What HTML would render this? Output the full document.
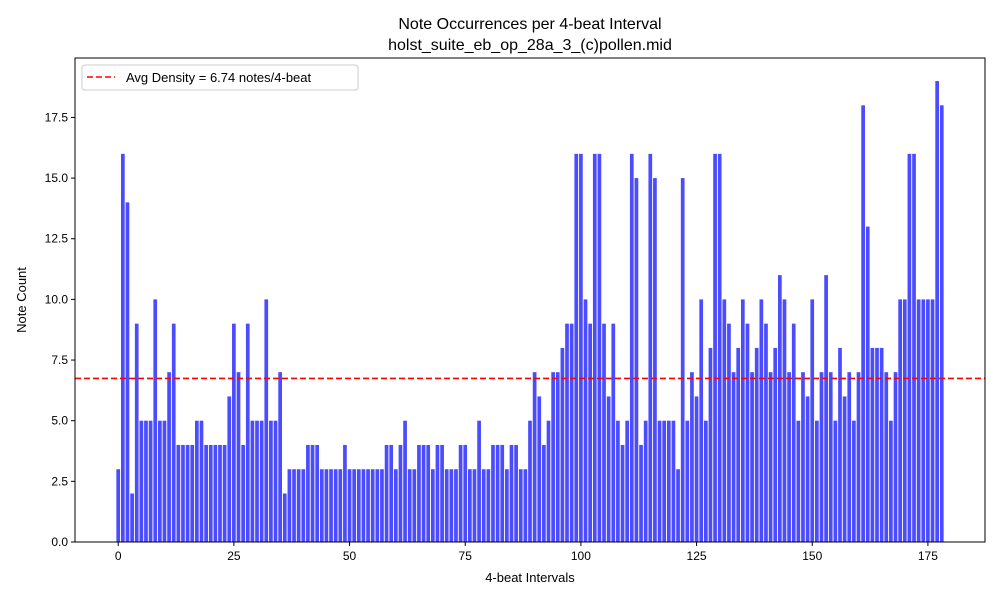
<!DOCTYPE html>
<html><head><meta charset="utf-8"><style>
body{margin:0;background:#fff;}
svg{display:block;font-family:"Liberation Sans","DejaVu Sans",sans-serif;}
</style></head><body>
<svg id="chart" width="1000" height="600" viewBox="0 0 1000 600" xmlns="http://www.w3.org/2000/svg">
<rect width="1000" height="600" fill="#fff"/>
<text x="530" y="29" font-size="16" text-anchor="middle">Note Occurrences per 4-beat Interval</text>
<text x="530" y="50" font-size="16" text-anchor="middle">holst_suite_eb_op_28a_3_(c)pollen.mid</text>
<g id="bars"></g>
<g id="xticks"></g>
<g id="yticks"></g>
<line id="avgline" stroke="#ff0000" stroke-width="1.6" stroke-dasharray="6,3"/>
<rect x="75" y="58" width="910" height="484" fill="none" stroke="#000" stroke-width="1"/>
<text x="530" y="582" font-size="13" text-anchor="middle">4-beat Intervals</text>
<text x="26" y="300" font-size="13" text-anchor="middle" transform="rotate(-90 26 300)">Note Count</text>
<g>
<rect x="82" y="65" width="276" height="25" rx="3" fill="#fff" stroke="#ccc" stroke-width="1"/>
<line x1="87" y1="77" x2="115" y2="77" stroke="#ff0000" stroke-width="1.6" stroke-dasharray="6,3"/>
<text x="126" y="82" font-size="13">Avg Density = 6.74 notes/4-beat</text>
</g>
</svg>
<script>
const counts = [3,16,14,2,9,5,5,5,10,5,5,7,9,4,4,4,4,5,5,4,4,4,4,4,6,9,7,4,9,5,
5,5,10,5,5,7,2,3,3,3,3,4,4,4,3,3,3,3,3,4,3,3,3,3,3,3,3,3,4,4,
3,4,5,3,3,4,4,4,3,4,4,3,3,3,4,4,3,3,5,3,3,4,4,4,3,4,4,3,3,5,
7,6,4,5,7,7,8,9,9,16,16,10,9,16,16,9,6,9,5,4,5,16,15,4,5,16,15,5,5,5,
5,3,15,5,7,6,10,5,8,16,16,10,9,7,8,10,9,7,8,10,9,7,8,11,10,7,9,5,7,6,
10,5,7,11,7,5,8,6,7,5,7,18,13,8,8,8,7,5,7,10,10,16,16,10,10,10,10,19,18];
const avgDensity = [6.74];
const yTicks = [0,2.5,5,7.5,10,12.5,15,17.5];
const xTicks = [0,25,50,75,100,125,150,175];
const X0=75,X1=985,Y0=542,Y1=58;
const xmin=-9.34,xmax=187.34,ymin=0,ymax=19.95;
function xs(v){return X0+(v-xmin)/(xmax-xmin)*(X1-X0);}
function ys(v){return Y0-(v-ymin)/(ymax-ymin)*(Y0-Y1);}
const NS="http://www.w3.org/2000/svg";
const bars=document.getElementById('bars');
counts.forEach((c,i)=>{
 const r=document.createElementNS(NS,'rect');
 
 
 const l=xs(i-0.4),w=xs(i+0.4)-l;
 r.setAttribute('x',l);r.setAttribute('width',w);
 r.setAttribute('y',ys(c));r.setAttribute('height',ys(0)-ys(c));
 r.setAttribute('fill','#4b4bff');
 bars.appendChild(r);
});
const xg=document.getElementById('xticks');
xTicks.forEach(t=>{
 const x=xs(t);
 const l=document.createElementNS(NS,'line');
 
 
 l.setAttribute('x1',x);l.setAttribute('x2',x);l.setAttribute('y1',Y0);l.setAttribute('y2',Y0+4);l.setAttribute('stroke','#000');
 xg.appendChild(l);
 const tx=document.createElementNS(NS,'text');
 
 
 tx.setAttribute('x',x);tx.setAttribute('y',Y0+18);tx.setAttribute('font-size','12');tx.setAttribute('text-anchor','middle');
 tx.textContent=t;xg.appendChild(tx);
});
const yg=document.getElementById('yticks');
yTicks.forEach(t=>{
 const y=ys(t);
 const l=document.createElementNS(NS,'line');
 
 
 l.setAttribute('x1',X0-4);l.setAttribute('x2',X0);l.setAttribute('y1',y);l.setAttribute('y2',y);l.setAttribute('stroke','#000');
 yg.appendChild(l);
 const tx=document.createElementNS(NS,'text');
 
 
 tx.setAttribute('x',X0-7);tx.setAttribute('y',y+4);tx.setAttribute('font-size','12');tx.setAttribute('text-anchor','end');
 tx.textContent=t.toFixed(1);yg.appendChild(tx);
});
const al=document.getElementById('avgline');
al.setAttribute('x1',X0);al.setAttribute('x2',X1);
al.setAttribute('y1',ys(avgDensity[0]));al.setAttribute('y2',ys(avgDensity[0]));
</script>
</body></html>
